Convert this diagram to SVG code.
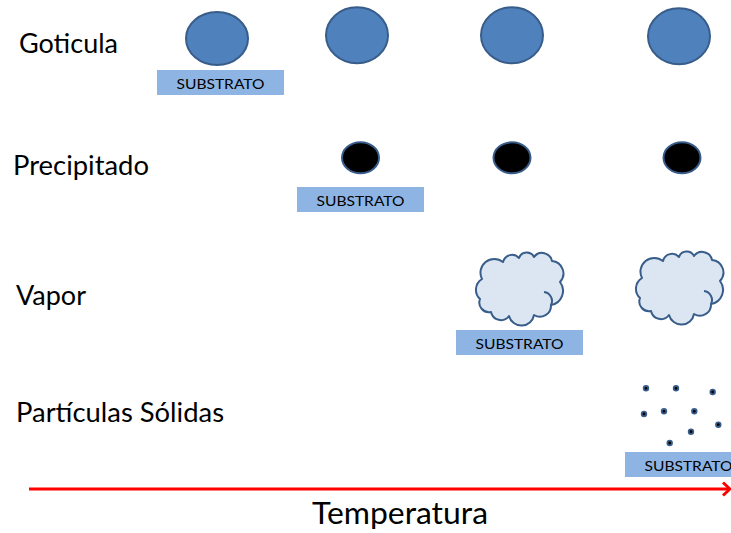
<svg xmlns="http://www.w3.org/2000/svg" xmlns:xlink="http://www.w3.org/1999/xlink" width="731" height="533" viewBox="0 0 731 533">
<style>
.lbl{font-family:Lato,"Liberation Sans",sans-serif;font-size:26px;fill:#000}
.sub rect{fill:#8eb4e3}
.sub text{font-family:Lato,"Liberation Sans",sans-serif;font-size:14px;fill:#000;text-anchor:middle}
.drop{fill:#4f81bd;stroke:#385d8a;stroke-width:2}
.prec{fill:#000;stroke:#385d8a;stroke-width:2}
.cloud{fill:#dce6f2;stroke:#385d8a;stroke-width:2;stroke-linejoin:round}
.curl{fill:none;stroke:#385d8a;stroke-width:2}
.dot{fill:#000;stroke:#385d8a;stroke-width:1.8}
.axis{fill:none;stroke:#ff0000;stroke-width:3}
</style>
<defs>
<g id="cloudShape">
<path class="cloud" d="M4 47 A12.6 12.6 0 0 1 6 27 A13.8 13.8 0 0 1 27 10 A9.3 9.3 0 0 1 43 6 A8.1 8.1 0 0 1 58 5 A10.1 10.1 0 0 1 76 9 A12.5 12.5 0 0 1 84 30 A14.4 14.4 0 0 1 75 53 A11.1 11.1 0 0 1 58 63 A12.8 12.8 0 0 1 33 64 A10.1 10.1 0 0 1 15 60 A9.7 9.7 0 0 1 4 47 Z"/>
<path class="curl" d="M68 40 A9 9 0 0 1 75 53"/>
</g>
</defs>

<g id="label-goticula"><text class="lbl" x="19" y="53" textLength="99" lengthAdjust="spacingAndGlyphs">Goticula</text></g>
<g id="label-precipitado"><text class="lbl" x="13" y="175" textLength="136" lengthAdjust="spacingAndGlyphs">Precipitado</text></g>
<g id="label-vapor"><text class="lbl" x="16" y="305" textLength="70" lengthAdjust="spacingAndGlyphs">Vapor</text></g>
<g id="label-particulas"><text class="lbl" x="16" y="422" textLength="208" lengthAdjust="spacingAndGlyphs">Partículas Sólidas</text></g>

<g id="drop-1"><ellipse class="drop" cx="217" cy="38.5" rx="31" ry="26.5"/></g>
<g id="drop-2"><ellipse class="drop" cx="357" cy="35.3" rx="31" ry="28"/></g>
<g id="drop-3"><ellipse class="drop" cx="512" cy="35.3" rx="31" ry="28"/></g>
<g id="drop-4"><ellipse class="drop" cx="679" cy="36.3" rx="31" ry="28"/></g>
<g id="substrato-1" class="sub"><rect x="157" y="70" width="127" height="25"/><text x="220.5" y="89" textLength="88" lengthAdjust="spacingAndGlyphs">SUBSTRATO</text></g>

<g id="prec-1"><ellipse class="prec" cx="360.5" cy="157.8" rx="18.5" ry="15.5"/></g>
<g id="prec-2"><ellipse class="prec" cx="512" cy="157.8" rx="18.5" ry="15.5"/></g>
<g id="prec-3"><ellipse class="prec" cx="682" cy="157.8" rx="18.5" ry="15.5"/></g>
<g id="substrato-2" class="sub"><rect x="297" y="187" width="127" height="25"/><text x="360.5" y="206" textLength="88" lengthAdjust="spacingAndGlyphs">SUBSTRATO</text></g>

<g id="cloud-1"><use xlink:href="#cloudShape" href="#cloudShape" transform="translate(476 252)"/></g>
<g id="cloud-2"><use xlink:href="#cloudShape" href="#cloudShape" transform="translate(636 251)"/></g>
<g id="substrato-3" class="sub"><rect x="456" y="330" width="127" height="25"/><text x="519.5" y="349" textLength="88" lengthAdjust="spacingAndGlyphs">SUBSTRATO</text></g>

<g id="particles">
<circle class="dot" cx="646" cy="388.3" r="2.3"/>
<circle class="dot" cx="676" cy="388.3" r="2.3"/>
<circle class="dot" cx="712.7" cy="392" r="2.3"/>
<circle class="dot" cx="644" cy="414" r="2.3"/>
<circle class="dot" cx="664" cy="411.3" r="2.3"/>
<circle class="dot" cx="694.3" cy="411.3" r="2.3"/>
<circle class="dot" cx="718.3" cy="424.7" r="2.3"/>
<circle class="dot" cx="691" cy="431.7" r="2.3"/>
<circle class="dot" cx="669.7" cy="443" r="2.3"/>
</g>
<g id="substrato-4" class="sub"><rect x="625" y="452" width="127" height="25"/><text x="688.5" y="471" textLength="88" lengthAdjust="spacingAndGlyphs">SUBSTRATO</text></g>

<g id="connectors">
<path class="axis" d="M29 489 H729"/>
<path class="axis" d="M723 482.5 L730 489 L723 495.5"/>
</g>
<g id="label-temperatura"><text class="lbl" x="312" y="524" style="font-size:30px" textLength="176" lengthAdjust="spacingAndGlyphs">Temperatura</text></g>
</svg>
